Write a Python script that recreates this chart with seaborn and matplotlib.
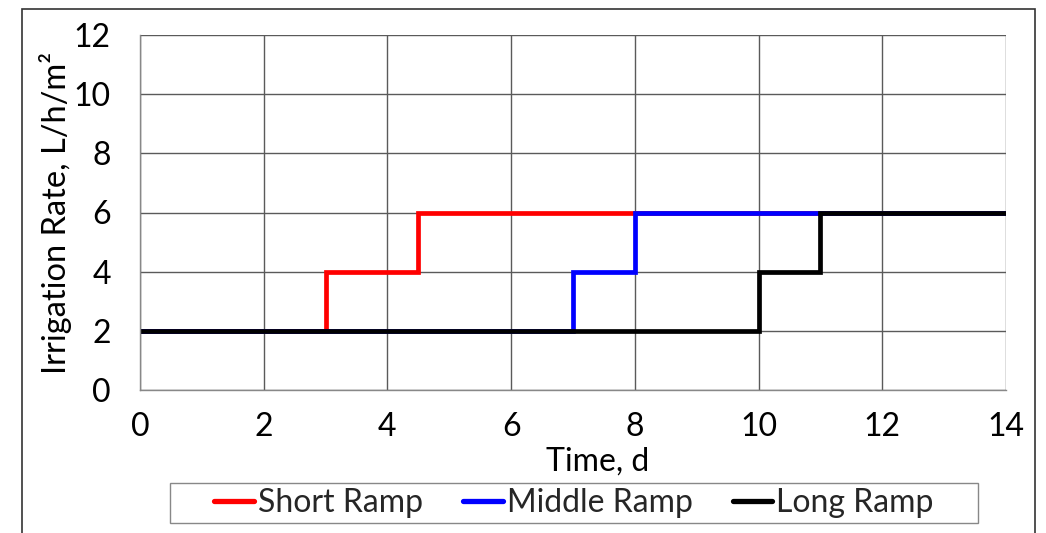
import matplotlib
matplotlib.use("Agg")
import matplotlib.pyplot as plt
from matplotlib.patches import Rectangle
from matplotlib.lines import Line2D
import seaborn as sns
import pandas as pd

# Data
series_names = ["Short Ramp", "Middle Ramp", "Long Ramp"]
time_short = [0, 3, 4.5, 14]
rate_short = [2, 4, 6, 6]
time_middle = [0, 7, 8, 14]
rate_middle = [2, 4, 6, 6]
time_long = [0, 10, 11, 14]
rate_long = [2, 4, 6, 6]
x_ticks = [0, 2, 4, 6, 8, 10, 12, 14]
y_ticks = [0, 2, 4, 6, 8, 10, 12]

colors = ["#ff0000", "#0000ff", "#000000"]

sns.set_theme(style="white")
plt.rcParams["font.family"] = ["Lato", "DejaVu Sans"]

fig = plt.figure(figsize=(10.46, 5.33), dpi=100)
ax = fig.add_axes([140/1046, 1-390/533, 866/1046, 355/533])

for (name, t, r), c in zip(zip(series_names, [time_short, time_middle, time_long],
                               [rate_short, rate_middle, rate_long]), colors):
    df = pd.DataFrame({"Time": t, "Rate": r})
    sns.lineplot(data=df, x="Time", y="Rate", ax=ax, color=c, linewidth=3.4,
                 drawstyle="steps-post", estimator=None, sort=False,
                 legend=False, solid_joinstyle="miter", solid_capstyle="butt")

ax.set_xlim(0, 14)
ax.set_ylim(0, 12)
ax.set_xticks(x_ticks)
ax.set_yticks(y_ticks)
ax.grid(True, color="#5a5a5a", linewidth=1)
ax.set_axisbelow(True)
for s in ["top", "right"]:
    ax.spines[s].set_visible(False)
for s in ["left", "bottom"]:
    ax.spines[s].set_color("#888888")
    ax.spines[s].set_linewidth(1)
ax.tick_params(axis="both", which="major", labelsize=23, direction="out",
               length=8, width=1, color="#888888", labelcolor="#000000")
ax.tick_params(axis="x", pad=8)
ax.tick_params(axis="y", pad=13)
ax.set_xlabel("Time, d", fontsize=23, color="black")
ax.set_ylabel("Irrigation Rate, L/h/m²", fontsize=23.5, color="black")
ax.xaxis.set_label_coords(0.529, -0.158)
ax.yaxis.set_label_coords(-0.079, 0.5)

handles = [Line2D([0], [0], color=c, linewidth=3.8) for c in colors]
fig.legend(handles, series_names, loc="center", ncol=3,
           bbox_to_anchor=(574/1046, 1-503/533), frameon=False,
           fontsize=23, handlelength=1.25, handletextpad=0.12,
           columnspacing=1.25)
fig.patches.append(Rectangle((170/1046, 1-523/533), 808/1046, 40/533,
                             transform=fig.transFigure, fill=False,
                             edgecolor="#888888", linewidth=1))
fig.patches.append(Rectangle((22/1046, -0.05), 1013/1046, 1-9/533+0.05,
                             transform=fig.transFigure, fill=False,
                             edgecolor="#333333", linewidth=1.2))

fig.savefig("out.png", dpi=100, facecolor="white")
